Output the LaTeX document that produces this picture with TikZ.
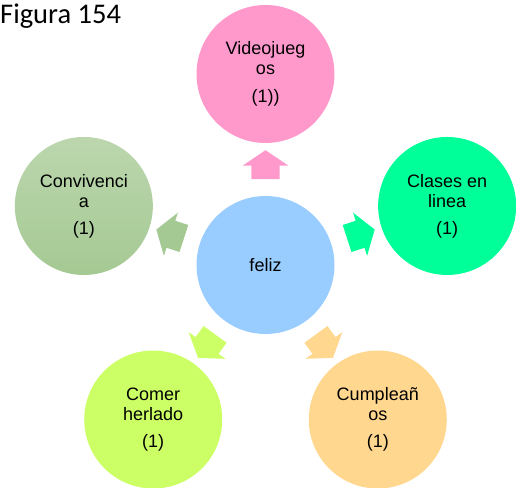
\documentclass[tikz,border=0pt]{standalone}
\usepackage{fontspec}
\setmainfont{Liberation Sans}
\newfontfamily\captionfont{Carlito}
\usepackage{tikz}
\usetikzlibrary{positioning, calc, shapes.arrows}
\definecolor{felizblue}{HTML}{99CCFF}
\definecolor{vidpink}{HTML}{FF99CC}
\definecolor{clasgreen}{HTML}{00FF99}
\definecolor{cumporange}{HTML}{FFD78F}
\definecolor{comerlime}{HTML}{CCFF66}
\definecolor{convsage}{HTML}{A5C993}

\begin{document}
\begin{tikzpicture}[
      bubble/.style={circle, minimum size=138pt, inner sep=0pt, align=center, font=\fontsize{18}{20}\selectfont},
      blockarrow/.style={single arrow, minimum height=29pt, inner xsep=0pt, inner ysep=14pt, single arrow head extend=8.5pt,
        single arrow head indent=0pt, single arrow tip angle=112}
    ]
      \useasboundingbox (0,0) rectangle (516pt,-487pt);
      \node[anchor=base west, inner sep=0pt, font=\captionfont\fontsize{28.5}{32}\selectfont] (title) at (0,-24pt) {Figura 154};

      \node[bubble, fill=felizblue] (feliz) at (265.5pt,-265pt) {feliz};
      \node[bubble, fill=vidpink] (video) at ($(feliz)+(90:191pt)$) {Videojueg\\os\\[8pt](1))};
      \node[bubble, fill=clasgreen] (clases) at ($(feliz)+(18:191pt)$) {Clases en\\linea\\[7pt](1)};
      \node[bubble, fill=cumporange] (cumple) at ($(feliz)+(-54:191pt)$) {Cumpleañ\\os\\[7pt](1)};
      \node[bubble, fill=comerlime] (comer) at ($(feliz)+(-126:191pt)$) {Comer\\herlado\\[7pt](1)};
      \node[bubble, top color=convsage!75!white, bottom color=convsage] (conv) at ($(feliz)+(162:191pt)$) {Convivenci\\a\\[7pt](1)};

      \node[blockarrow, fill=vidpink, rotate=90] (a-video) at ($(feliz)!0.5!(video)$) {};
      \node[blockarrow, fill=clasgreen, rotate=18] (a-clases) at ($(feliz)!0.5!(clases)$) {};
      \node[blockarrow, fill=cumporange, rotate=-54] (a-cumple) at ($(feliz)!0.5!(cumple)$) {};
      \node[blockarrow, fill=comerlime, rotate=-126] (a-comer) at ($(feliz)!0.5!(comer)$) {};
      \node[blockarrow, fill=convsage, rotate=162] (a-conv) at ($(feliz)!0.5!(conv)$) {};
    \end{tikzpicture}
\end{document}
